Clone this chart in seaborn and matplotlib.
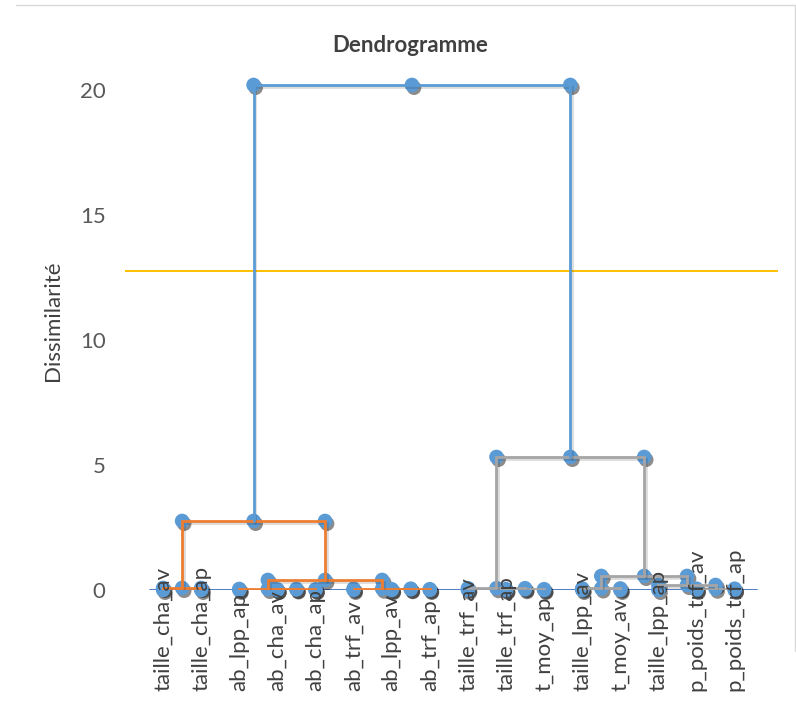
import matplotlib
matplotlib.use("Agg")
from matplotlib import pyplot as plt
from matplotlib import patheffects as pe
from matplotlib.lines import Line2D
import seaborn as sns
import pandas as pd

# feuilles du dendrogramme (ordre de l'axe)
feuilles = ["taille_cha_av", "taille_cha_ap", "ab_lpp_ap", "ab_cha_av", "ab_cha_ap",
            "ab_trf_av", "ab_lpp_av", "ab_trf_ap", "taille_trf_av", "taille_trf_ap",
            "t_moy_ap", "taille_lpp_av", "t_moy_av", "taille_lpp_ap",
            "p_poids_trf_av", "p_poids_trf_ap"]

# fusions : noeud gauche, noeud droit, niveau (les noeuds >= 16 sont les fusions)
fusion_gauche = [0, 3, 2, 6, 5, 18, 16, 9, 8, 11, 14, 13, 25, 24, 22]
fusion_droite = [1, 4, 17, 7, 19, 20, 21, 10, 23, 12, 15, 26, 27, 28, 29]
fusion_niveau = [0.08, 0.02, 0.04, 0.03, 0.05, 0.40, 2.76, 0.03, 0.07, 0.06, 0.05, 0.20, 0.56, 5.32, 20.2]
fusion_groupe = ["c1", "c1", "c1", "c1", "c1", "c1", "c1", "c2", "c2", "c2", "c2", "c2", "c2", "c2", "top"]

troncature = 12.76
ligne_base = [-0.35, 15.6]

couleurs = {"c1": "#ED7D31", "c2": "#A5A5A5", "top": "#5B9BD5"}

sns.set_theme(style="white")
plt.rcParams["font.family"] = ["Lato", "DejaVu Sans"]

fig = plt.figure(figsize=(7.96, 7.04), dpi=100)
ax = fig.add_axes([0.157, 0.162, 0.820, 0.7635])

n = len(feuilles)
pos_x = {i: float(i) for i in range(n)}
pos_y = {i: 0.0 for i in range(n)}
pts = [(i, 0.0) for i in range(n)]

for k, (g, d, h, grp) in enumerate(zip(fusion_gauche, fusion_droite, fusion_niveau, fusion_groupe)):
    xg, xd = pos_x[g], pos_x[d]
    xc = (xg + xd) / 2
    ax.plot([xg, xg, xd, xd], [pos_y[g], h, h, pos_y[d]], color=couleurs[grp], lw=2.0,
             zorder=3, solid_joinstyle="miter",
             path_effects=[pe.SimpleLineShadow(offset=(1.2, -1.5), alpha=0.15), pe.Normal()])
    pts += [(xg, h), (xc, h), (xd, h)]
    pos_x[n + k] = xc
    pos_y[n + k] = h

ax.plot(ligne_base, [0, 0], color="#4472C4", lw=1.3, zorder=1)
ax.axhline(troncature, color="#FFC000", lw=1.4, zorder=1)

df = pd.DataFrame(pts, columns=["x", "y"])
sc = sns.scatterplot(data=df, x="x", y="y", ax=ax, s=110, color="#5B9BD5",
                     edgecolor="none", zorder=2, clip_on=False, legend=False)
sc.collections[-1].set_path_effects([pe.SimplePatchShadow(offset=(1.5, -2), alpha=0.45,
                                                          shadow_rgbFace="black"), pe.Normal()])

ax.set_xlim(-1.0, 16.13)
ax.set_ylim(0, 21.5)
ax.set_yticks([0, 5, 10, 15, 20])
ax.set_xticks(range(n))
ax.set_xticklabels(feuilles, rotation=90, va="bottom", ha="center", fontsize=16, color="#404040")
ax.tick_params(axis="x", length=0, pad=73)
ax.tick_params(axis="y", length=0, pad=14, labelsize=16, labelcolor="#595959")
ax.xaxis.set_zorder(5)
for s in ax.spines.values():
    s.set_visible(False)
ax.set_xlabel("")
ax.set_ylabel("Dissimilarité", fontsize=16, color="#404040", labelpad=12)

fig.text(0.515, 0.936, "Dendrogramme", ha="center", va="center", fontsize=16,
         fontweight="bold", color="#404040")

# cadre du graphique
fig.add_artist(Line2D([0.02, 1.0], [0.993, 0.993], color="#D9D9D9", lw=1.0))
fig.add_artist(Line2D([0.999, 0.999], [0.075, 0.993], color="#D9D9D9", lw=1.0))

fig.savefig("out.png", dpi=100)
